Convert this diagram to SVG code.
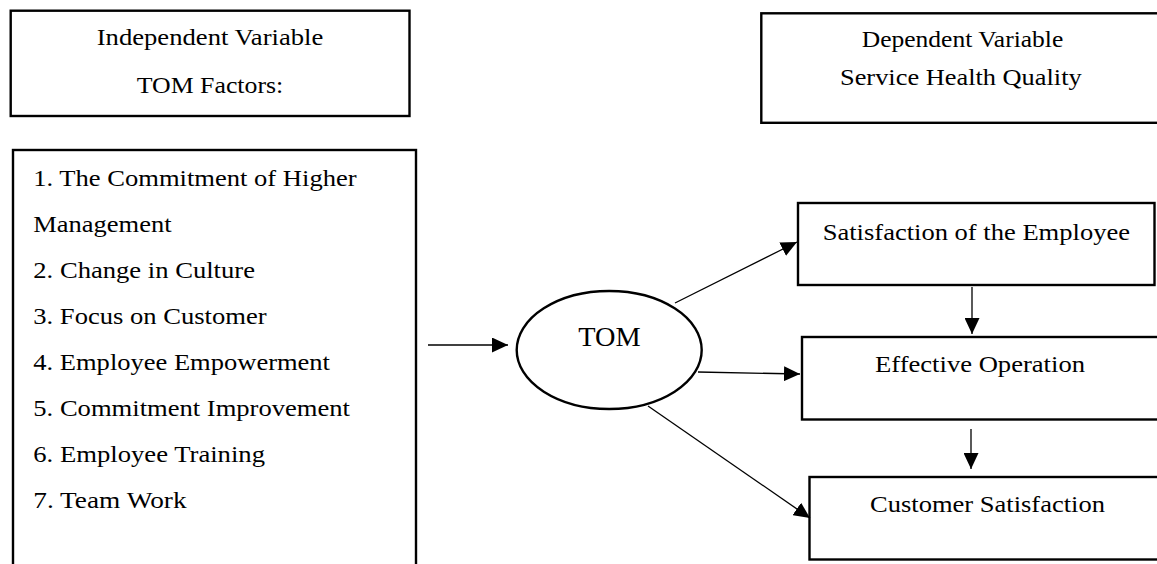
<svg xmlns="http://www.w3.org/2000/svg" width="1157" height="564" viewBox="0 0 1157 564">
<style>
  .box { fill: #fff; stroke: #000; stroke-width: 2.4; }
  .t { font-family: "Liberation Serif", "Times New Roman", serif; font-size: 23.8px; fill: #000; }
  .big { font-size: 28px; }
  .c { stroke: #000; stroke-width: 1.3; fill: none; marker-end: url(#ah); }
</style>
<defs>
  <marker id="ah" markerUnits="userSpaceOnUse" markerWidth="16" markerHeight="15" refX="16" refY="7.5" orient="auto">
    <path d="M0,0 L16,7.5 L0,15 z" fill="#000"/>
  </marker>
</defs>
<rect width="1157" height="564" fill="#fff"/>

<g id="independent-header">
  <rect class="box" x="10.7" y="10.7" width="398.8" height="105.3"/>
  <text class="t" x="96.7" y="44.5" textLength="226.6" lengthAdjust="spacingAndGlyphs">Independent Variable</text>
  <text class="t" x="136.7" y="92.5" textLength="146.6" lengthAdjust="spacingAndGlyphs">TOM Factors:</text>
</g>

<g id="dependent-header">
  <rect class="box" x="761.3" y="13.3" width="410" height="109.5"/>
  <text class="t" x="861.7" y="47.3" textLength="201.6" lengthAdjust="spacingAndGlyphs">Dependent Variable</text>
  <text class="t" x="840" y="85" textLength="241.7" lengthAdjust="spacingAndGlyphs">Service Health Quality</text>
</g>

<g id="factors-list">
  <rect class="box" x="13" y="150" width="403" height="430"/>
  <text class="t" x="33.3" y="185.5" textLength="323.3" lengthAdjust="spacingAndGlyphs">1. The Commitment of Higher</text>
  <text class="t" x="33.3" y="231.5" textLength="138.3" lengthAdjust="spacingAndGlyphs">Management</text>
  <text class="t" x="33.3" y="277.5" textLength="221.7" lengthAdjust="spacingAndGlyphs">2. Change in Culture</text>
  <text class="t" x="33.3" y="323.5" textLength="233.3" lengthAdjust="spacingAndGlyphs">3. Focus on Customer</text>
  <text class="t" x="33.3" y="369.5" textLength="296.7" lengthAdjust="spacingAndGlyphs">4. Employee Empowerment</text>
  <text class="t" x="33.3" y="416" textLength="316.7" lengthAdjust="spacingAndGlyphs">5. Commitment Improvement</text>
  <text class="t" x="33.3" y="461.5" textLength="231.7" lengthAdjust="spacingAndGlyphs">6. Employee Training</text>
  <text class="t" x="33.3" y="507.5" textLength="153.3" lengthAdjust="spacingAndGlyphs">7. Team Work</text>
</g>

<g id="tom">
  <ellipse cx="609.2" cy="350" rx="92.5" ry="59" fill="#fff" stroke="#000" stroke-width="2.4"/>
  <text class="t big" x="578.3" y="345.5" textLength="62.4" lengthAdjust="spacingAndGlyphs">TOM</text>
</g>

<g id="employee-satisfaction">
  <rect class="box" x="798" y="203" width="356.5" height="82"/>
  <text class="t" x="822.7" y="239.8" textLength="307.3" lengthAdjust="spacingAndGlyphs">Satisfaction of the Employee</text>
</g>

<g id="effective-operation">
  <rect class="box" x="802" y="337" width="370" height="82.5"/>
  <text class="t" x="875" y="372" textLength="210" lengthAdjust="spacingAndGlyphs">Effective Operation</text>
</g>

<g id="customer-satisfaction">
  <rect class="box" x="809.5" y="477" width="370" height="82.5"/>
  <text class="t" x="870" y="512" textLength="235" lengthAdjust="spacingAndGlyphs">Customer Satisfaction</text>
</g>

<g id="connectors">
  <line class="c" x1="428" y1="345" x2="508" y2="345"/>
  <line class="c" x1="675" y1="303" x2="797" y2="242"/>
  <line class="c" x1="698" y1="372" x2="800" y2="374"/>
  <line class="c" x1="648" y1="406" x2="810" y2="518"/>
  <line class="c" x1="972" y1="287" x2="972" y2="334"/>
  <line class="c" x1="971" y1="429" x2="971" y2="469"/>
</g>
</svg>
